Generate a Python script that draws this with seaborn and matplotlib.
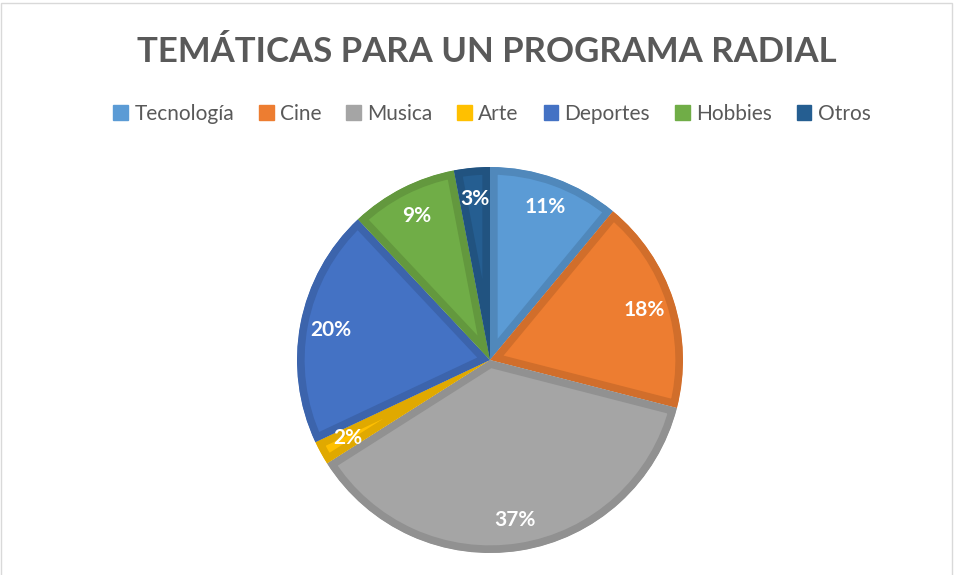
import matplotlib
matplotlib.use("Agg")
import matplotlib.pyplot as plt
import matplotlib.colors as mcolors
from matplotlib.patches import Rectangle
import seaborn as sns

categories = ["Tecnología", "Cine", "Musica", "Arte", "Deportes", "Hobbies", "Otros"]
values = [11, 18, 37, 2, 20, 9, 3]
colors = ["#5B9BD5", "#ED7D31", "#A5A5A5", "#FFC000", "#4472C4", "#70AD47", "#255E91"]
title = "TEMÁTICAS PARA UN PROGRAMA RADIAL"

sns.set_theme(style="white")
plt.rcParams["font.family"] = ["Lato", "DejaVu Sans"]

W, H = 957, 575
fig = plt.figure(figsize=(W / 100, H / 100), dpi=100)
fig.patch.set_facecolor("white")

cx, cy, r = 490, 360, 193
ax = fig.add_axes([(cx - r) / W, (H - cy - r) / H, 2 * r / W, 2 * r / H])
wedges, texts, autotexts = ax.pie(
    values, colors=colors, startangle=90, counterclock=False,
    autopct=lambda p: f"{p:.0f}%", pctdistance=0.84,
    textprops=dict(color="white", fontsize=15, fontweight="bold"),
    wedgeprops=dict(linewidth=0),
)
ax.set_xlim(-1, 1)
ax.set_ylim(-1, 1)
ax.set_aspect("auto")
ax.axis("off")
for w, c in zip(wedges, colors):
    rgb = mcolors.to_rgb(c)
    dark = tuple(v * 0.88 for v in rgb)
    w.set_edgecolor(dark)
    w.set_linewidth(11)
    w.set_clip_on(True)
    w.set_clip_path(w.get_path(), w.get_transform())

fig.text(487 / W, 1 - 52 / H, title, ha="center", va="center",
         fontsize=25, fontweight="bold", color="#595959")

handles = [plt.Rectangle((0, 0), 1, 1, color=c) for c in colors]
fig.legend(handles, categories, loc="center", bbox_to_anchor=(492 / W, 1 - 114 / H),
           ncol=7, frameon=False, fontsize=15, handlelength=0.7, handleheight=0.7,
           handletextpad=0.3, columnspacing=1.2, labelcolor="#595959")

fig.patches.append(Rectangle((1 / W, -0.01), 951 / W, 1 - 3 / H + 0.01,
                             transform=fig.transFigure, fill=False,
                             edgecolor="#D9D9D9", linewidth=1))

fig.savefig("out.png", dpi=100)
